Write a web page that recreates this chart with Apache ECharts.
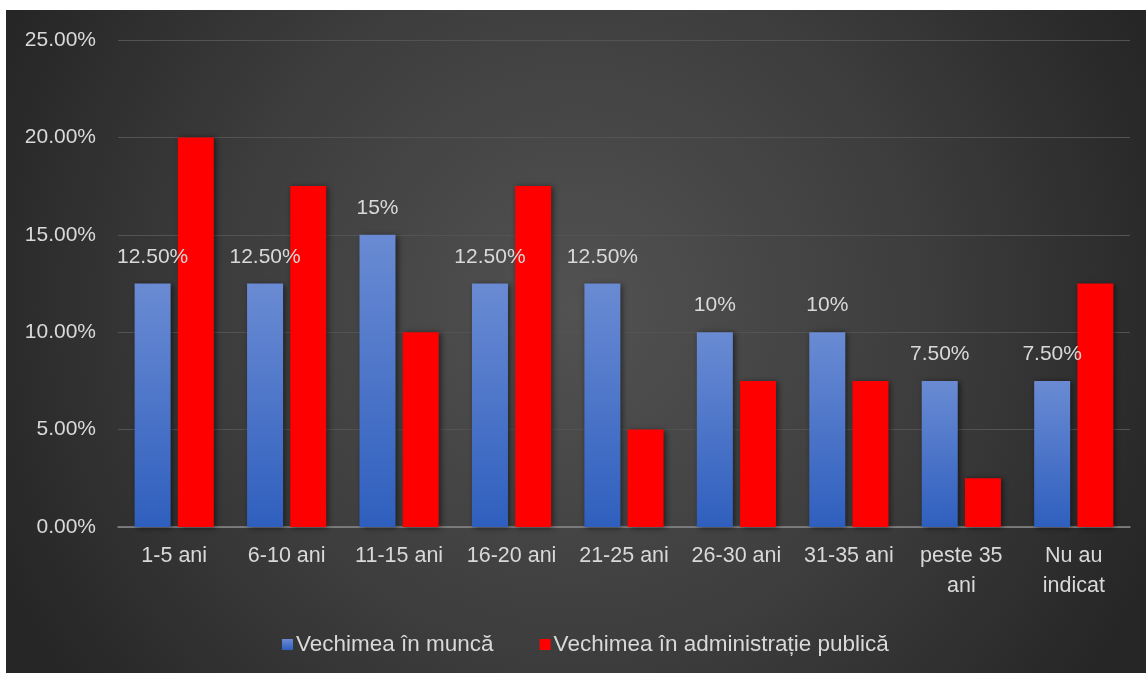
<!DOCTYPE html>
<html>
<head>
<meta charset="utf-8">
<script src="https://cdn.jsdelivr.net/npm/echarts@6/dist/echarts.min.js"></script>
<style>
html,body{margin:0;padding:0;background:#ffffff;}
#chart{position:absolute;left:6px;top:10px;width:1140px;height:663px;}
</style>
</head>
<body>
<div id="chart"></div>
<script>
const categories = ['1-5 ani','6-10 ani','11-15 ani','16-20 ani','21-25 ani','26-30 ani','31-35 ani','peste 35\nani','Nu au\nindicat'];
const seriesNames = ['Vechimea în muncă','Vechimea în administrație publică'];
const vechimeaMunca = [12.5,12.5,15,12.5,12.5,10,10,7.5,7.5];
const vechimeaAdmin = [20,17.5,10,17.5,5,7.5,7.5,2.5,12.5];
const muncaLabels = ['12.50%','12.50%','15%','12.50%','12.50%','10%','10%','7.50%','7.50%'];

const FONT = 'Liberation Sans';
const TXT = '#d9d9d9';

const chart = echarts.init(document.getElementById('chart'));
chart.setOption({
  backgroundColor: {
    type:'radial', x:0.5, y:0.45, r:0.95,
    colorStops:[{offset:0,color:'#525252'},{offset:0.55,color:'#3d3d3d'},{offset:1,color:'#262626'}]
  },
  textStyle:{fontFamily:FONT},
  grid:{left:112,right:16,top:30,bottom:146,containLabel:false},
  legend:{
    data:seriesNames,
    top:618, left:271,
    itemWidth:11, itemHeight:11, itemGap:46,
    icon:'rect',
    textStyle:{color:TXT,fontSize:22.5,fontFamily:FONT,padding:[0,0,0,-2]}
  },
  xAxis:{
    type:'category',
    data:categories,
    axisLine:{lineStyle:{color:'#8a8a8a',width:1.5}},
    axisTick:{show:false},
    axisLabel:{color:TXT,fontSize:21.5,fontFamily:FONT,margin:14,lineHeight:30,interval:0}
  },
  yAxis:{
    type:'value', min:0, max:25, interval:5,
    axisLine:{show:false}, axisTick:{show:false},
    splitLine:{lineStyle:{color:'#535353',width:1}},
    axisLabel:{color:TXT,fontSize:21,fontFamily:FONT,margin:22,formatter:v=>v.toFixed(2)+'%'}
  },
  series:[
    {
      name:seriesNames[0], type:'bar', data:vechimeaMunca,
      barWidth:36, barGap:'20%',
      itemStyle:{
        color:{type:'linear',x:0,y:0,x2:0,y2:1,colorStops:[{offset:0,color:'#6a8bd3'},{offset:1,color:'#2f5fbe'}]},
        shadowBlur:6, shadowColor:'rgba(0,0,0,0.55)', shadowOffsetX:2, shadowOffsetY:1
      },
      label:{show:true,position:'top',distance:16,color:TXT,fontSize:21,fontFamily:FONT,
        formatter:p=>muncaLabels[p.dataIndex]}
    },
    {
      name:seriesNames[1], type:'bar', data:vechimeaAdmin,
      barWidth:36,
      itemStyle:{color:'#ff0000',shadowBlur:6,shadowColor:'rgba(0,0,0,0.55)',shadowOffsetX:2,shadowOffsetY:1}
    }
  ]
});
</script>
</body>
</html>
